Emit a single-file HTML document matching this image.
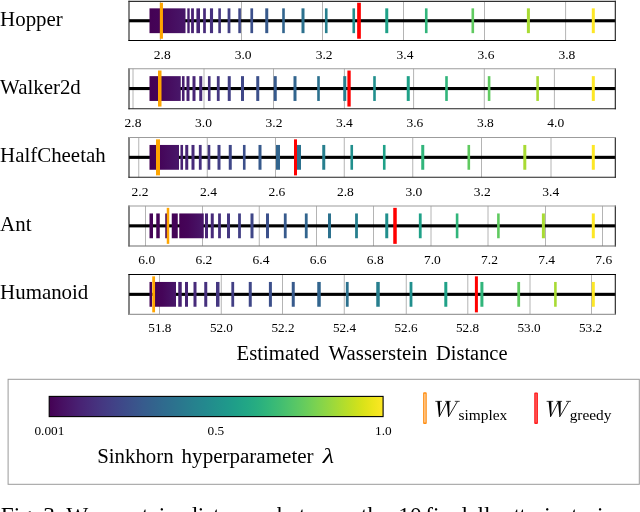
<!DOCTYPE html>
<html><head><meta charset="utf-8"><title>Figure</title>
<style>
html,body{margin:0;padding:0;background:#fff;}
body{width:640px;height:512px;overflow:hidden;position:relative;font-family:"Liberation Serif",serif;}
</style></head><body>
<svg width="640" height="512" viewBox="0 0 640 512" style="position:absolute;left:0;top:0;will-change:transform">
<defs>
<linearGradient id="cb" x1="0" x2="1" y1="0" y2="0">
<stop offset="0.0000" stop-color="#440154"/>
<stop offset="0.0312" stop-color="#470d60"/>
<stop offset="0.0625" stop-color="#48186a"/>
<stop offset="0.0938" stop-color="#482374"/>
<stop offset="0.1250" stop-color="#472d7b"/>
<stop offset="0.1562" stop-color="#453781"/>
<stop offset="0.1875" stop-color="#424086"/>
<stop offset="0.2188" stop-color="#3e4989"/>
<stop offset="0.2500" stop-color="#3b528b"/>
<stop offset="0.2812" stop-color="#375b8d"/>
<stop offset="0.3125" stop-color="#33638d"/>
<stop offset="0.3438" stop-color="#2f6b8e"/>
<stop offset="0.3750" stop-color="#2c728e"/>
<stop offset="0.4062" stop-color="#297a8e"/>
<stop offset="0.4375" stop-color="#26828e"/>
<stop offset="0.4688" stop-color="#23898e"/>
<stop offset="0.5000" stop-color="#21918c"/>
<stop offset="0.5312" stop-color="#1f988b"/>
<stop offset="0.5625" stop-color="#1fa088"/>
<stop offset="0.5938" stop-color="#22a785"/>
<stop offset="0.6250" stop-color="#28ae80"/>
<stop offset="0.6562" stop-color="#32b67a"/>
<stop offset="0.6875" stop-color="#3fbc73"/>
<stop offset="0.7188" stop-color="#4ec36b"/>
<stop offset="0.7500" stop-color="#5ec962"/>
<stop offset="0.7812" stop-color="#70cf57"/>
<stop offset="0.8125" stop-color="#84d44b"/>
<stop offset="0.8438" stop-color="#98d83e"/>
<stop offset="0.8750" stop-color="#addc30"/>
<stop offset="0.9062" stop-color="#c2df23"/>
<stop offset="0.9375" stop-color="#d8e219"/>
<stop offset="0.9688" stop-color="#ece51b"/>
<stop offset="1.0000" stop-color="#fde725"/>
</linearGradient>
<linearGradient id="blk" x1="0" x2="1" y1="0" y2="0">
<stop offset="0" stop-color="#440154"/><stop offset="0.35" stop-color="#450559"/><stop offset="1" stop-color="#481769"/>
</linearGradient>
</defs>
<rect x="0" y="0" width="640" height="512" fill="#ffffff"/>
<line x1="160.40" y1="1.30" x2="160.40" y2="40.50" stroke="#b4b4b4" stroke-width="1"/>
<line x1="241.50" y1="1.30" x2="241.50" y2="40.50" stroke="#b4b4b4" stroke-width="1"/>
<line x1="322.50" y1="1.30" x2="322.50" y2="40.50" stroke="#b4b4b4" stroke-width="1"/>
<line x1="403.50" y1="1.30" x2="403.50" y2="40.50" stroke="#b4b4b4" stroke-width="1"/>
<line x1="484.50" y1="1.30" x2="484.50" y2="40.50" stroke="#b4b4b4" stroke-width="1"/>
<line x1="565.60" y1="1.30" x2="565.60" y2="40.50" stroke="#b4b4b4" stroke-width="1"/>
<rect x="129.00" y="19.20" width="486.30" height="3.10" fill="#000"/>
<rect x="149.50" y="8.35" width="36.00" height="24.80" fill="url(#blk)"/>
<rect x="591.80" y="8.35" width="3.00" height="24.80" fill="#fde725"/>
<rect x="526.90" y="8.35" width="3.00" height="24.80" fill="#a8db34"/>
<rect x="471.50" y="8.35" width="2.60" height="24.80" fill="#60ca60"/>
<rect x="424.95" y="8.35" width="2.60" height="24.80" fill="#31b57b"/>
<rect x="385.25" y="8.35" width="3.00" height="24.80" fill="#1fa188"/>
<rect x="352.45" y="8.35" width="2.60" height="24.80" fill="#218f8d"/>
<rect x="324.95" y="8.35" width="2.60" height="24.80" fill="#277f8e"/>
<rect x="301.50" y="8.35" width="3.00" height="24.80" fill="#2c718e"/>
<rect x="282.20" y="8.35" width="2.60" height="24.80" fill="#32658e"/>
<rect x="265.25" y="8.35" width="3.00" height="24.80" fill="#375a8c"/>
<rect x="250.40" y="8.35" width="2.70" height="24.80" fill="#3c508b"/>
<rect x="238.30" y="8.35" width="2.60" height="24.80" fill="#3f4788"/>
<rect x="227.60" y="8.35" width="2.80" height="24.80" fill="#423f85"/>
<rect x="218.30" y="8.35" width="2.60" height="24.80" fill="#453781"/>
<rect x="209.95" y="8.35" width="3.10" height="24.80" fill="#46307e"/>
<rect x="203.15" y="8.35" width="2.70" height="24.80" fill="#472a7a"/>
<rect x="196.40" y="8.35" width="3.60" height="24.80" fill="#482576"/>
<rect x="191.10" y="8.35" width="2.80" height="24.80" fill="#482173"/>
<rect x="187.30" y="8.35" width="2.40" height="24.80" fill="#481d6f"/>
<rect x="357.15" y="2.75" width="3.70" height="36.00" fill="#ff0000"/>
<rect x="159.85" y="2.75" width="3.10" height="36.00" fill="#ffa500"/>
<line x1="129.00" y1="0.75" x2="129.00" y2="41.05" stroke="#222" stroke-width="1.1"/>
<line x1="615.30" y1="0.75" x2="615.30" y2="41.05" stroke="#1c1c1c" stroke-width="1.1"/>
<line x1="128.45" y1="1.30" x2="615.85" y2="1.30" stroke="#303030" stroke-width="1.15"/>
<line x1="128.45" y1="40.50" x2="615.85" y2="40.50" stroke="#000000" stroke-width="1.15"/>
<text x="162.20" y="59.15" font-size="13.50" text-anchor="middle" font-family='"Liberation Serif", serif' fill="#000">2.8</text>
<text x="243.14" y="59.15" font-size="13.50" text-anchor="middle" font-family='"Liberation Serif", serif' fill="#000">3.0</text>
<text x="324.08" y="59.15" font-size="13.50" text-anchor="middle" font-family='"Liberation Serif", serif' fill="#000">3.2</text>
<text x="405.02" y="59.15" font-size="13.50" text-anchor="middle" font-family='"Liberation Serif", serif' fill="#000">3.4</text>
<text x="485.96" y="59.15" font-size="13.50" text-anchor="middle" font-family='"Liberation Serif", serif' fill="#000">3.6</text>
<text x="566.90" y="59.15" font-size="13.50" text-anchor="middle" font-family='"Liberation Serif", serif' fill="#000">3.8</text>
<text x="0.1" y="25.75" font-size="20.90" font-family='"Liberation Serif", serif' fill="#000">Hopper</text>
<line x1="133.00" y1="68.70" x2="133.00" y2="108.75" stroke="#b4b4b4" stroke-width="1"/>
<line x1="204.00" y1="68.70" x2="204.00" y2="108.75" stroke="#b4b4b4" stroke-width="1"/>
<line x1="273.50" y1="68.70" x2="273.50" y2="108.75" stroke="#b4b4b4" stroke-width="1"/>
<line x1="344.40" y1="68.70" x2="344.40" y2="108.75" stroke="#b4b4b4" stroke-width="1"/>
<line x1="413.60" y1="68.70" x2="413.60" y2="108.75" stroke="#b4b4b4" stroke-width="1"/>
<line x1="484.30" y1="68.70" x2="484.30" y2="108.75" stroke="#b4b4b4" stroke-width="1"/>
<line x1="554.40" y1="68.70" x2="554.40" y2="108.75" stroke="#b4b4b4" stroke-width="1"/>
<rect x="129.00" y="87.00" width="486.30" height="3.10" fill="#000"/>
<rect x="149.50" y="76.15" width="31.25" height="24.80" fill="url(#blk)"/>
<rect x="591.80" y="76.15" width="3.00" height="24.80" fill="#fde725"/>
<rect x="536.30" y="76.15" width="2.60" height="24.80" fill="#a8db34"/>
<rect x="487.80" y="76.15" width="2.60" height="24.80" fill="#60ca60"/>
<rect x="445.20" y="76.15" width="2.60" height="24.80" fill="#31b57b"/>
<rect x="406.75" y="76.15" width="3.00" height="24.80" fill="#1fa188"/>
<rect x="373.20" y="76.15" width="2.60" height="24.80" fill="#218f8d"/>
<rect x="343.25" y="76.15" width="3.00" height="24.80" fill="#277f8e"/>
<rect x="317.20" y="76.15" width="2.60" height="24.80" fill="#2c718e"/>
<rect x="293.50" y="76.15" width="3.00" height="24.80" fill="#32658e"/>
<rect x="273.75" y="76.15" width="3.00" height="24.80" fill="#375a8c"/>
<rect x="256.25" y="76.15" width="3.00" height="24.80" fill="#3c508b"/>
<rect x="241.00" y="76.15" width="3.00" height="24.80" fill="#3f4788"/>
<rect x="227.75" y="76.15" width="3.00" height="24.80" fill="#423f85"/>
<rect x="216.85" y="76.15" width="2.80" height="24.80" fill="#453781"/>
<rect x="207.95" y="76.15" width="2.60" height="24.80" fill="#46307e"/>
<rect x="199.25" y="76.15" width="3.00" height="24.80" fill="#472a7a"/>
<rect x="192.50" y="76.15" width="3.00" height="24.80" fill="#482576"/>
<rect x="186.50" y="76.15" width="3.00" height="24.80" fill="#482173"/>
<rect x="181.95" y="76.15" width="2.60" height="24.80" fill="#481d6f"/>
<rect x="347.40" y="70.55" width="3.30" height="36.00" fill="#ff0000"/>
<rect x="158.00" y="70.55" width="3.50" height="36.00" fill="#ffa500"/>
<line x1="129.00" y1="68.15" x2="129.00" y2="109.30" stroke="#222" stroke-width="1.1"/>
<line x1="615.30" y1="68.15" x2="615.30" y2="109.30" stroke="#1c1c1c" stroke-width="1.1"/>
<line x1="128.45" y1="68.70" x2="615.85" y2="68.70" stroke="#9c9c9c" stroke-width="1.15"/>
<line x1="128.45" y1="108.75" x2="615.85" y2="108.75" stroke="#202020" stroke-width="1.15"/>
<text x="133.05" y="127.36" font-size="13.50" text-anchor="middle" font-family='"Liberation Serif", serif' fill="#000">2.8</text>
<text x="203.51" y="127.36" font-size="13.50" text-anchor="middle" font-family='"Liberation Serif", serif' fill="#000">3.0</text>
<text x="273.97" y="127.36" font-size="13.50" text-anchor="middle" font-family='"Liberation Serif", serif' fill="#000">3.2</text>
<text x="344.42" y="127.36" font-size="13.50" text-anchor="middle" font-family='"Liberation Serif", serif' fill="#000">3.4</text>
<text x="414.88" y="127.36" font-size="13.50" text-anchor="middle" font-family='"Liberation Serif", serif' fill="#000">3.6</text>
<text x="485.34" y="127.36" font-size="13.50" text-anchor="middle" font-family='"Liberation Serif", serif' fill="#000">3.8</text>
<text x="555.80" y="127.36" font-size="13.50" text-anchor="middle" font-family='"Liberation Serif", serif' fill="#000">4.0</text>
<text x="0.1" y="93.55" font-size="20.90" font-family='"Liberation Serif", serif' fill="#000">Walker2d</text>
<line x1="138.75" y1="137.50" x2="138.75" y2="177.25" stroke="#b4b4b4" stroke-width="1"/>
<line x1="207.25" y1="137.50" x2="207.25" y2="177.25" stroke="#b4b4b4" stroke-width="1"/>
<line x1="275.50" y1="137.50" x2="275.50" y2="177.25" stroke="#b4b4b4" stroke-width="1"/>
<line x1="344.25" y1="137.50" x2="344.25" y2="177.25" stroke="#b4b4b4" stroke-width="1"/>
<line x1="412.75" y1="137.50" x2="412.75" y2="177.25" stroke="#b4b4b4" stroke-width="1"/>
<line x1="481.50" y1="137.50" x2="481.50" y2="177.25" stroke="#b4b4b4" stroke-width="1"/>
<line x1="551.00" y1="137.50" x2="551.00" y2="177.25" stroke="#b4b4b4" stroke-width="1"/>
<rect x="129.00" y="155.80" width="486.30" height="3.10" fill="#000"/>
<rect x="149.50" y="144.95" width="29.50" height="24.80" fill="url(#blk)"/>
<rect x="591.80" y="144.95" width="3.00" height="24.80" fill="#fde725"/>
<rect x="523.30" y="144.95" width="3.00" height="24.80" fill="#a8db34"/>
<rect x="467.50" y="144.95" width="2.60" height="24.80" fill="#60ca60"/>
<rect x="421.25" y="144.95" width="3.00" height="24.80" fill="#31b57b"/>
<rect x="382.95" y="144.95" width="2.60" height="24.80" fill="#1fa188"/>
<rect x="350.45" y="144.95" width="2.60" height="24.80" fill="#218f8d"/>
<rect x="322.25" y="144.95" width="3.00" height="24.80" fill="#277f8e"/>
<rect x="297.00" y="144.95" width="4.00" height="24.80" fill="#2c718e"/>
<rect x="276.00" y="144.95" width="4.00" height="24.80" fill="#32658e"/>
<rect x="258.50" y="144.95" width="3.00" height="24.80" fill="#375a8c"/>
<rect x="242.95" y="144.95" width="2.60" height="24.80" fill="#3c508b"/>
<rect x="228.75" y="144.95" width="3.00" height="24.80" fill="#3f4788"/>
<rect x="217.50" y="144.95" width="3.00" height="24.80" fill="#423f85"/>
<rect x="207.70" y="144.95" width="2.60" height="24.80" fill="#453781"/>
<rect x="198.85" y="144.95" width="2.80" height="24.80" fill="#46307e"/>
<rect x="191.50" y="144.95" width="3.00" height="24.80" fill="#472a7a"/>
<rect x="185.25" y="144.95" width="3.00" height="24.80" fill="#482576"/>
<rect x="180.45" y="144.95" width="2.60" height="24.80" fill="#482173"/>
<rect x="294.00" y="139.35" width="3.00" height="36.00" fill="#ff0000"/>
<rect x="156.00" y="139.35" width="4.00" height="36.00" fill="#ffa500"/>
<line x1="129.00" y1="136.95" x2="129.00" y2="177.80" stroke="#222" stroke-width="1.1"/>
<line x1="615.30" y1="136.95" x2="615.30" y2="177.80" stroke="#1c1c1c" stroke-width="1.1"/>
<line x1="128.45" y1="137.50" x2="615.85" y2="137.50" stroke="#9c9c9c" stroke-width="1.15"/>
<line x1="128.45" y1="177.25" x2="615.85" y2="177.25" stroke="#202020" stroke-width="1.15"/>
<text x="140.05" y="195.57" font-size="13.50" text-anchor="middle" font-family='"Liberation Serif", serif' fill="#000">2.2</text>
<text x="208.49" y="195.57" font-size="13.50" text-anchor="middle" font-family='"Liberation Serif", serif' fill="#000">2.4</text>
<text x="276.93" y="195.57" font-size="13.50" text-anchor="middle" font-family='"Liberation Serif", serif' fill="#000">2.6</text>
<text x="345.38" y="195.57" font-size="13.50" text-anchor="middle" font-family='"Liberation Serif", serif' fill="#000">2.8</text>
<text x="413.82" y="195.57" font-size="13.50" text-anchor="middle" font-family='"Liberation Serif", serif' fill="#000">3.0</text>
<text x="482.26" y="195.57" font-size="13.50" text-anchor="middle" font-family='"Liberation Serif", serif' fill="#000">3.2</text>
<text x="550.70" y="195.57" font-size="13.50" text-anchor="middle" font-family='"Liberation Serif", serif' fill="#000">3.4</text>
<text x="0.1" y="162.35" font-size="20.90" font-family='"Liberation Serif", serif' fill="#000">HalfCheetah</text>
<line x1="145.50" y1="205.95" x2="145.50" y2="245.95" stroke="#b4b4b4" stroke-width="1"/>
<line x1="202.50" y1="205.95" x2="202.50" y2="245.95" stroke="#b4b4b4" stroke-width="1"/>
<line x1="259.25" y1="205.95" x2="259.25" y2="245.95" stroke="#b4b4b4" stroke-width="1"/>
<line x1="316.50" y1="205.95" x2="316.50" y2="245.95" stroke="#b4b4b4" stroke-width="1"/>
<line x1="373.50" y1="205.95" x2="373.50" y2="245.95" stroke="#b4b4b4" stroke-width="1"/>
<line x1="431.00" y1="205.95" x2="431.00" y2="245.95" stroke="#b4b4b4" stroke-width="1"/>
<line x1="488.00" y1="205.95" x2="488.00" y2="245.95" stroke="#b4b4b4" stroke-width="1"/>
<line x1="545.50" y1="205.95" x2="545.50" y2="245.95" stroke="#b4b4b4" stroke-width="1"/>
<line x1="602.50" y1="205.95" x2="602.50" y2="245.95" stroke="#b4b4b4" stroke-width="1"/>
<rect x="129.00" y="224.30" width="486.30" height="3.10" fill="#000"/>
<rect x="179.25" y="213.45" width="24.50" height="24.80" fill="url(#blk)"/>
<rect x="171.75" y="213.45" width="6.00" height="24.80" fill="#450457"/>
<rect x="165.25" y="213.45" width="2.00" height="24.80" fill="#450457"/>
<rect x="156.25" y="213.45" width="3.50" height="24.80" fill="#450457"/>
<rect x="149.50" y="213.45" width="3.50" height="24.80" fill="#450457"/>
<rect x="591.80" y="213.45" width="3.00" height="24.80" fill="#fde725"/>
<rect x="541.90" y="213.45" width="3.00" height="24.80" fill="#a8db34"/>
<rect x="497.10" y="213.45" width="2.60" height="24.80" fill="#60ca60"/>
<rect x="455.80" y="213.45" width="2.60" height="24.80" fill="#31b57b"/>
<rect x="418.85" y="213.45" width="2.80" height="24.80" fill="#1fa188"/>
<rect x="385.25" y="213.45" width="3.00" height="24.80" fill="#218f8d"/>
<rect x="355.10" y="213.45" width="2.80" height="24.80" fill="#277f8e"/>
<rect x="328.00" y="213.45" width="3.00" height="24.80" fill="#2c718e"/>
<rect x="304.85" y="213.45" width="2.80" height="24.80" fill="#32658e"/>
<rect x="283.85" y="213.45" width="2.80" height="24.80" fill="#375a8c"/>
<rect x="266.00" y="213.45" width="3.00" height="24.80" fill="#3c508b"/>
<rect x="250.50" y="213.45" width="3.00" height="24.80" fill="#3f4788"/>
<rect x="238.10" y="213.45" width="2.80" height="24.80" fill="#423f85"/>
<rect x="227.00" y="213.45" width="3.00" height="24.80" fill="#453781"/>
<rect x="218.10" y="213.45" width="2.80" height="24.80" fill="#46307e"/>
<rect x="210.75" y="213.45" width="3.00" height="24.80" fill="#472a7a"/>
<rect x="205.00" y="213.45" width="3.00" height="24.80" fill="#482576"/>
<rect x="393.25" y="207.85" width="3.50" height="36.00" fill="#ff0000"/>
<rect x="166.75" y="207.85" width="2.50" height="36.00" fill="#ffa500"/>
<line x1="129.00" y1="205.40" x2="129.00" y2="246.50" stroke="#222" stroke-width="1.1"/>
<line x1="615.30" y1="205.40" x2="615.30" y2="246.50" stroke="#1c1c1c" stroke-width="1.1"/>
<line x1="128.45" y1="205.95" x2="615.85" y2="205.95" stroke="#9c9c9c" stroke-width="1.15"/>
<line x1="128.45" y1="245.95" x2="615.85" y2="245.95" stroke="#6c6c6c" stroke-width="1.15"/>
<text x="146.80" y="263.78" font-size="13.50" text-anchor="middle" font-family='"Liberation Serif", serif' fill="#000">6.0</text>
<text x="203.93" y="263.78" font-size="13.50" text-anchor="middle" font-family='"Liberation Serif", serif' fill="#000">6.2</text>
<text x="261.05" y="263.78" font-size="13.50" text-anchor="middle" font-family='"Liberation Serif", serif' fill="#000">6.4</text>
<text x="318.17" y="263.78" font-size="13.50" text-anchor="middle" font-family='"Liberation Serif", serif' fill="#000">6.6</text>
<text x="375.30" y="263.78" font-size="13.50" text-anchor="middle" font-family='"Liberation Serif", serif' fill="#000">6.8</text>
<text x="432.42" y="263.78" font-size="13.50" text-anchor="middle" font-family='"Liberation Serif", serif' fill="#000">7.0</text>
<text x="489.55" y="263.78" font-size="13.50" text-anchor="middle" font-family='"Liberation Serif", serif' fill="#000">7.2</text>
<text x="546.67" y="263.78" font-size="13.50" text-anchor="middle" font-family='"Liberation Serif", serif' fill="#000">7.4</text>
<text x="603.80" y="263.78" font-size="13.50" text-anchor="middle" font-family='"Liberation Serif", serif' fill="#000">7.6</text>
<text x="0.1" y="230.85" font-size="20.90" font-family='"Liberation Serif", serif' fill="#000">Ant</text>
<line x1="159.50" y1="274.45" x2="159.50" y2="314.35" stroke="#b4b4b4" stroke-width="1"/>
<line x1="221.25" y1="274.45" x2="221.25" y2="314.35" stroke="#b4b4b4" stroke-width="1"/>
<line x1="282.50" y1="274.45" x2="282.50" y2="314.35" stroke="#b4b4b4" stroke-width="1"/>
<line x1="344.25" y1="274.45" x2="344.25" y2="314.35" stroke="#b4b4b4" stroke-width="1"/>
<line x1="406.25" y1="274.45" x2="406.25" y2="314.35" stroke="#b4b4b4" stroke-width="1"/>
<line x1="467.80" y1="274.45" x2="467.80" y2="314.35" stroke="#b4b4b4" stroke-width="1"/>
<line x1="530.00" y1="274.45" x2="530.00" y2="314.35" stroke="#b4b4b4" stroke-width="1"/>
<line x1="591.50" y1="274.45" x2="591.50" y2="314.35" stroke="#b4b4b4" stroke-width="1"/>
<rect x="129.00" y="292.80" width="486.30" height="3.10" fill="#000"/>
<rect x="155.00" y="281.95" width="21.00" height="24.80" fill="url(#blk)"/>
<rect x="149.50" y="281.95" width="2.50" height="24.80" fill="#450457"/>
<rect x="591.80" y="281.95" width="3.00" height="24.80" fill="#fde725"/>
<rect x="554.10" y="281.95" width="2.60" height="24.80" fill="#a8db34"/>
<rect x="517.30" y="281.95" width="2.80" height="24.80" fill="#60ca60"/>
<rect x="480.40" y="281.95" width="3.00" height="24.80" fill="#31b57b"/>
<rect x="444.30" y="281.95" width="3.00" height="24.80" fill="#1fa188"/>
<rect x="409.60" y="281.95" width="2.80" height="24.80" fill="#218f8d"/>
<rect x="376.25" y="281.95" width="3.50" height="24.80" fill="#277f8e"/>
<rect x="345.85" y="281.95" width="2.80" height="24.80" fill="#2c718e"/>
<rect x="317.25" y="281.95" width="3.50" height="24.80" fill="#32658e"/>
<rect x="291.75" y="281.95" width="3.00" height="24.80" fill="#375a8c"/>
<rect x="268.90" y="281.95" width="3.00" height="24.80" fill="#3c508b"/>
<rect x="248.75" y="281.95" width="3.00" height="24.80" fill="#3f4788"/>
<rect x="231.35" y="281.95" width="2.80" height="24.80" fill="#423f85"/>
<rect x="216.00" y="281.95" width="3.50" height="24.80" fill="#453781"/>
<rect x="204.25" y="281.95" width="3.00" height="24.80" fill="#46307e"/>
<rect x="193.50" y="281.95" width="3.00" height="24.80" fill="#472a7a"/>
<rect x="185.00" y="281.95" width="3.00" height="24.80" fill="#482576"/>
<rect x="178.25" y="281.95" width="3.50" height="24.80" fill="#482173"/>
<rect x="474.90" y="276.35" width="3.00" height="36.00" fill="#ff0000"/>
<rect x="152.25" y="276.35" width="2.80" height="36.00" fill="#ffa500"/>
<line x1="129.00" y1="273.90" x2="129.00" y2="314.90" stroke="#222" stroke-width="1.1"/>
<line x1="615.30" y1="273.90" x2="615.30" y2="314.90" stroke="#1c1c1c" stroke-width="1.1"/>
<line x1="128.45" y1="274.45" x2="615.85" y2="274.45" stroke="#000000" stroke-width="1.15"/>
<line x1="128.45" y1="314.35" x2="615.85" y2="314.35" stroke="#9c9c9c" stroke-width="1.15"/>
<text x="159.90" y="331.99" font-size="13.20" text-anchor="middle" font-family='"Liberation Serif", serif' fill="#000">51.8</text>
<text x="221.42" y="331.99" font-size="13.20" text-anchor="middle" font-family='"Liberation Serif", serif' fill="#000">52.0</text>
<text x="282.94" y="331.99" font-size="13.20" text-anchor="middle" font-family='"Liberation Serif", serif' fill="#000">52.2</text>
<text x="344.46" y="331.99" font-size="13.20" text-anchor="middle" font-family='"Liberation Serif", serif' fill="#000">52.4</text>
<text x="405.99" y="331.99" font-size="13.20" text-anchor="middle" font-family='"Liberation Serif", serif' fill="#000">52.6</text>
<text x="467.51" y="331.99" font-size="13.20" text-anchor="middle" font-family='"Liberation Serif", serif' fill="#000">52.8</text>
<text x="529.03" y="331.99" font-size="13.20" text-anchor="middle" font-family='"Liberation Serif", serif' fill="#000">53.0</text>
<text x="590.55" y="331.99" font-size="13.20" text-anchor="middle" font-family='"Liberation Serif", serif' fill="#000">53.2</text>
<text x="0.1" y="299.35" font-size="20.90" font-family='"Liberation Serif", serif' fill="#000">Humanoid</text>
<text x="236.60" y="359.60" font-size="20.50" font-family='"Liberation Serif", serif' fill="#000" textLength="82.90" lengthAdjust="spacingAndGlyphs">Estimated</text>
<text x="328.60" y="359.60" font-size="20.50" font-family='"Liberation Serif", serif' fill="#000" textLength="98.80" lengthAdjust="spacingAndGlyphs">Wasserstein</text>
<text x="436.00" y="359.60" font-size="20.50" font-family='"Liberation Serif", serif' fill="#000" textLength="71.50" lengthAdjust="spacingAndGlyphs">Distance</text>
<rect x="8.1" y="379.3" width="631.2" height="105" fill="#fff" stroke="#9a9a9a" stroke-width="1"/>
<rect x="49.2" y="396.4" width="333.9" height="20.2" fill="url(#cb)" stroke="#000" stroke-width="1.1"/>
<text x="49.40" y="435.4" font-size="13.3" text-anchor="middle" font-family='"Liberation Serif", serif' fill="#000">0.001</text>
<text x="215.80" y="435.4" font-size="13.3" text-anchor="middle" font-family='"Liberation Serif", serif' fill="#000">0.5</text>
<text x="383.30" y="435.4" font-size="13.3" text-anchor="middle" font-family='"Liberation Serif", serif' fill="#000">1.0</text>
<text x="97.20" y="462.50" font-size="20.80" font-family='"Liberation Serif", serif' fill="#000" textLength="76.40" lengthAdjust="spacingAndGlyphs">Sinkhorn</text>
<text x="181.60" y="462.50" font-size="20.80" font-family='"Liberation Serif", serif' fill="#000" textLength="132.00" lengthAdjust="spacingAndGlyphs">hyperparameter</text>
<text x="322.80" y="462.50" font-size="22.00" font-family='"Liberation Serif", serif' fill="#000" textLength="11.40" lengthAdjust="spacingAndGlyphs" font-style="italic">&#955;</text>
<rect x="423.78" y="392.95" width="2.3" height="30.3" rx="0.3" fill="#ffe9d2" stroke="#ff8f14" stroke-width="1.35"/>
<rect x="534.9" y="393.05" width="2.35" height="30.2" rx="0.3" fill="#ff7474" stroke="#ff1c1c" stroke-width="1.35"/>
<g transform="translate(435.30 401.00)"><path d="M0 0.35H6.6M9.9 0.35H15.5M19.5 0.35H24.4" stroke="#000" stroke-width="0.75" fill="none"/><path d="M2.0 0.3H4.7L4.95 13.2L4.15 16.1H3.65Z" fill="#000"/><path d="M11.4 0.3H14.1L14.05 13.2L13.35 16.1H12.85Z" fill="#000"/><path d="M4.0 15.7L11.9 0.6M13.2 15.7L22.1 0.5" stroke="#000" stroke-width="0.85" fill="none"/></g>
<text x="458.50" y="420.00" font-size="15.20" font-family='"Liberation Serif", serif' fill="#000" textLength="48.80" lengthAdjust="spacingAndGlyphs">simplex</text>
<g transform="translate(546.60 401.00)"><path d="M0 0.35H6.6M9.9 0.35H15.5M19.5 0.35H24.4" stroke="#000" stroke-width="0.75" fill="none"/><path d="M2.0 0.3H4.7L4.95 13.2L4.15 16.1H3.65Z" fill="#000"/><path d="M11.4 0.3H14.1L14.05 13.2L13.35 16.1H12.85Z" fill="#000"/><path d="M4.0 15.7L11.9 0.6M13.2 15.7L22.1 0.5" stroke="#000" stroke-width="0.85" fill="none"/></g>
<text x="569.70" y="420.00" font-size="15.20" font-family='"Liberation Serif", serif' fill="#000" textLength="41.80" lengthAdjust="spacingAndGlyphs">greedy</text>
<text x="0.70" y="523.20" font-size="23.30" font-family='"Liberation Serif", serif' fill="#000">Fig.</text>
<text x="43.30" y="523.20" font-size="23.30" font-family='"Liberation Serif", serif' fill="#000">3:</text>
<text x="66.30" y="523.20" font-size="23.30" font-family='"Liberation Serif", serif' fill="#000">Wasserstein</text>
<text x="186.00" y="523.20" font-size="23.30" font-family='"Liberation Serif", serif' fill="#000">distances</text>
<text x="277.00" y="523.20" font-size="23.30" font-family='"Liberation Serif", serif' fill="#000">between</text>
<text x="361.00" y="523.20" font-size="23.30" font-family='"Liberation Serif", serif' fill="#000">the</text>
<text x="398.30" y="523.20" font-size="23.30" font-family='"Liberation Serif", serif' fill="#000">10</text>
<text x="425.30" y="523.20" font-size="23.30" font-family='"Liberation Serif", serif' fill="#000">final</text>
<text x="458.00" y="523.20" font-size="23.30" font-family='"Liberation Serif", serif' fill="#000">rollout</text>
<text x="519.50" y="523.20" font-size="23.30" font-family='"Liberation Serif", serif' fill="#000">trajectories</text>
</svg>
</body></html>
